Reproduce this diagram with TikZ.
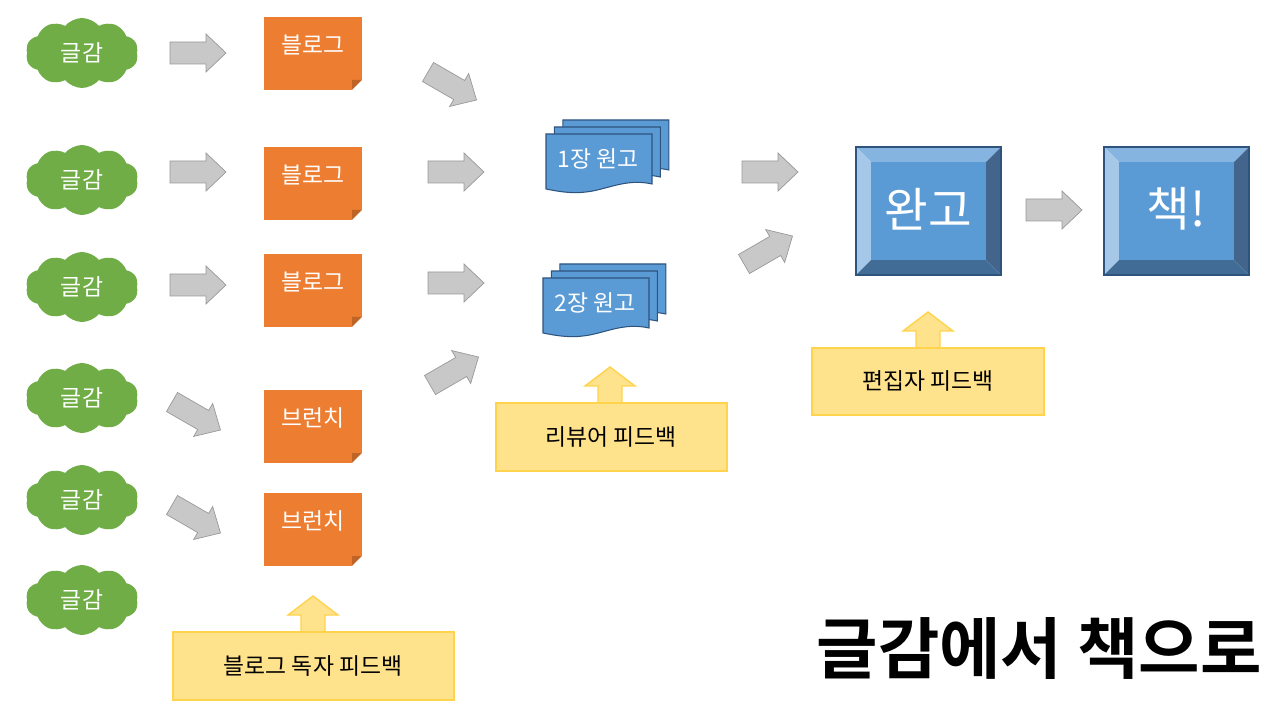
\documentclass[tikz,border=0pt]{standalone}
\usepackage{fontspec}
\setmainfont{Noto Sans CJK KR}
\newfontfamily\bfk{Noto Sans CJK KR Bold}
\usetikzlibrary{shapes.symbols}
\definecolor{cgreen}{RGB}{112,173,71}
\definecolor{corange}{RGB}{237,125,49}
\definecolor{cblue}{RGB}{91,155,213}
\definecolor{cbluedk}{RGB}{46,84,126}
\definecolor{cyel}{RGB}{255,217,102}
\definecolor{cyelb}{RGB}{255,192,0}
\definecolor{cgray}{RGB}{200,200,200}
\begin{document}
\begin{tikzpicture}[x=0.02cm,y=-0.02cm,
 cl/.style={cloud,cloud puffs=10,cloud puff arc=100,aspect=1.7,fill=cgreen,draw=none,minimum width=2.25cm,minimum height=1.4cm,text=white,font=\fontsize{13}{13}\selectfont},
 tx/.style={text=white,font=\fontsize{13}{13}\selectfont},
 barr/.pic={\fill[cgray,draw=gray!80,line width=0.4pt] (0,-11)--(36,-11)--(36,-19)--(56,0)--(36,19)--(36,11)--(0,11)--cycle;},
 yel/.style={fill=cyel!75,draw=cyelb!70,line width=0.8pt},
 uparr/.pic={\fill[cyel!75,draw=cyelb!70,line width=0.8pt] (-12,0)--(-12,-18)--(-25,-18)--(0,-37)--(25,-18)--(12,-18)--(12,0);},
]
\useasboundingbox (0,0) rectangle (1280,712);
% clouds
\foreach \y/\n in {53/1,180/2,287/3,398/4,500/5,600/6}
  \node[cl] (c\n) at (82,\y) {글감};
% notes
\foreach \t/\n/\l in {17/1/블로그,147/2/블로그,254/3/블로그,390/4/브런치,493/5/브런치}{
  \fill[corange] (264,\t) rectangle ++(98,73);
  \fill[corange!80!black] (362,\t+63) -- (352,\t+73) -- (352,\t+63) -- cycle;
  \fill[white] (362,\t+63) -- (352,\t+73) -- (362,\t+73) -- cycle;
  \node[tx] (n\n) at (313,\t+28) {\l};
}
% gray arrows
\pic at (170,53) {barr};
\pic at (170,172) {barr};
\pic at (170,285) {barr};
\pic[rotate=-30] at (172,402) {barr};
\pic[rotate=-30] at (172,505) {barr};
\pic[rotate=-30] at (428,72) {barr};
\pic at (428,172) {barr};
\pic at (428,283) {barr};
\pic[rotate=30] at (430,385) {barr};
\pic at (742,172) {barr};
\pic[rotate=30] at (744,264) {barr};
\pic at (1026,210) {barr};
% multidocs
\foreach \x/\y/\n/\l in {546/134/1/1장 원고,543/278/2/2장 원고}{
  \foreach \d in {14,7,0}{
    \filldraw[fill=cblue,draw=cbluedk,line width=0.6pt] (\x+1.2*\d,\y-\d) -- (\x+1.2*\d+106,\y-\d) -- (\x+1.2*\d+106,\y-\d+50)
      .. controls (\x+1.2*\d+80,\y-\d+44) and (\x+1.2*\d+60,\y-\d+56) .. (\x+1.2*\d+40,\y-\d+58)
      .. controls (\x+1.2*\d+25,\y-\d+60) and (\x+1.2*\d+10,\y-\d+57) .. (\x+1.2*\d,\y-\d+55) -- cycle;
  }
  \node[tx] (d\n) at (\x+52,\y+25) {\l};
}
% bevel boxes
\foreach \x/\n/\l in {856/a/완고,1104/b/책!}{
  \fill[cblue!75!white] (\x,147) -- (\x+145,147) -- (\x+130,162) -- (\x+15,162) -- cycle;
  \fill[cblue!55!white] (\x,147) -- (\x+15,162) -- (\x+15,260) -- (\x,275) -- cycle;
  \fill[cbluedk!90] (\x+145,147) -- (\x+145,275) -- (\x+130,260) -- (\x+130,162) -- cycle;
  \fill[cblue!70!black] (\x,275) -- (\x+145,275) -- (\x+130,260) -- (\x+15,260) -- cycle;
  \fill[cblue] (\x+15,162) rectangle (\x+130,260);
  \draw[cbluedk,line width=0.6pt] (\x,147) rectangle (\x+145,275);
  \node[text=white,font=\fontsize{27}{27}\selectfont] (b\n) at (\x+72,209) {\l};
}
% yellow feedback
\pic at (313,633) {uparr};
\filldraw[yel] (173,632) rectangle (454,700);
\node[font=\fontsize{13}{13}\selectfont] (f1) at (313,666) {블로그 독자 피드백};
\pic at (610,404) {uparr};
\filldraw[yel] (496,403) rectangle (727,471);
\node[font=\fontsize{13}{13}\selectfont] (f2) at (611,437) {리뷰어 피드백};
\pic at (928,349) {uparr};
\filldraw[yel] (812,348) rectangle (1044,415);
\node[font=\fontsize{13}{13}\selectfont] (f3) at (928,381) {편집자 피드백};
% title
\node[anchor=east,font=\bfk\fontsize{38}{38}\selectfont] (title) at (1268,648) {글감에서 책으로};
\end{tikzpicture}
\end{document}
